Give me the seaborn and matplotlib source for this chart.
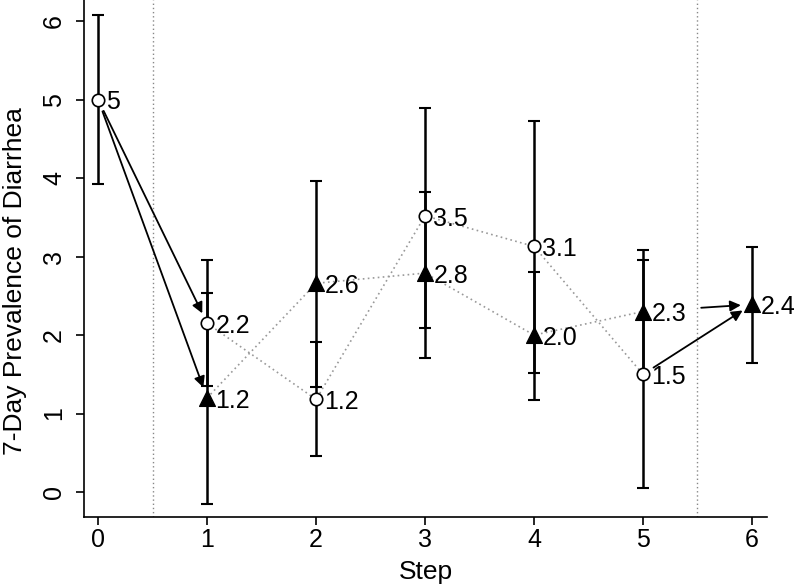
import matplotlib
matplotlib.use("Agg")
import matplotlib.pyplot as plt
import seaborn as sns
import pandas as pd

# circles: steps 0-5, triangles: steps 1-6
circle_steps = [0, 1, 2, 3, 4, 5]
circle_mean = [5.0, 2.15, 1.18, 3.52, 3.13, 1.50]
circle_lo = [3.93, 1.35, 0.46, 2.09, 1.52, 0.05]
circle_hi = [6.08, 2.96, 1.91, 4.90, 4.73, 2.96]
circle_labels = ["5", "2.2", "1.2", "3.5", "3.1", "1.5"]

tri_steps = [1, 2, 3, 4, 5, 6]
tri_mean = [1.20, 2.66, 2.79, 2.00, 2.30, 2.39]
tri_lo = [-0.15, 1.34, 1.71, 1.17, 1.50, 1.65]
tri_hi = [2.53, 3.96, 3.82, 2.80, 3.09, 3.12]
tri_labels = ["1.2", "2.6", "2.8", "2.0", "2.3", "2.4"]

circ = pd.DataFrame({"step": circle_steps, "mean": circle_mean, "lo": circle_lo, "hi": circle_hi, "lab": circle_labels})
tri = pd.DataFrame({"step": tri_steps, "mean": tri_mean, "lo": tri_lo, "hi": tri_hi, "lab": tri_labels})

sns.set_style("white")
plt.rcParams["font.family"] = ["Liberation Sans", "DejaVu Sans"]
plt.rcParams.update({"text.color": "black", "axes.labelcolor": "black",
                     "xtick.color": "black", "ytick.color": "black"})

fig = plt.figure(figsize=(8, 5.85), dpi=100)
ax = fig.add_axes([0.105, 0.116, 0.854, 0.884])

# separators
for xv in [0.5, 5.5]:
    ax.axvline(xv, color="#888888", linestyle=(0, (1, 2)), linewidth=1, zorder=0)

# dotted connections within the middle steps
sns.lineplot(data=circ[circ["step"].between(1, 5)], x="step", y="mean", ax=ax,
             color="#999999", linestyle=(0, (1, 2)), linewidth=1.2, zorder=1)
sns.lineplot(data=tri[tri["step"].between(1, 5)], x="step", y="mean", ax=ax,
             color="#999999", linestyle=(0, (1, 2)), linewidth=1.2, zorder=1)

# error bars
for d in [circ, tri]:
    ax.errorbar(d["step"], d["mean"], yerr=[d["mean"] - d["lo"], d["hi"] - d["mean"]],
                fmt="none", ecolor="black", elinewidth=1.8, capsize=4.5, capthick=1.5, zorder=2)

sns.scatterplot(data=circ, x="step", y="mean", ax=ax, marker="o", s=80,
                facecolor="white", edgecolor="black", linewidth=1.2, zorder=3)
sns.scatterplot(data=tri, x="step", y="mean", ax=ax, marker="^", s=130,
                color="black", edgecolor="black", zorder=3)

for d in [circ, tri]:
    for x, y, t in zip(d["step"], d["mean"], d["lab"]):
        ax.annotate(t, (x, y), xytext=(6, -2), textcoords="offset points",
                    va="center", ha="left", fontsize=18, zorder=4)

arrow = dict(arrowstyle="-|>", color="black", lw=1.3, mutation_scale=16,
             shrinkA=9, shrinkB=8)
ax.annotate("", xy=(circle_steps[1], circle_mean[1]), xytext=(circle_steps[0], circle_mean[0]), arrowprops=arrow)
ax.annotate("", xy=(tri_steps[0], tri_mean[0]), xytext=(circle_steps[0], circle_mean[0]), arrowprops=arrow)
ax.annotate("", xy=(tri_steps[5], tri_mean[5]), xytext=(circle_steps[5], circle_mean[5]), arrowprops=arrow)
ax.annotate("", xy=(tri_steps[5], tri_mean[5]), xytext=(tri_steps[4], tri_mean[4]),
            arrowprops=dict(arrow, shrinkA=42))

ax.set_xlim(-0.13, 6.14)
ax.set_ylim(-0.32, 6.27)
ax.set_xticks(range(0, 7))
ax.set_yticks(range(0, 7))
ax.set_xlabel("Step", fontsize=19)
ax.set_ylabel("7-Day Prevalence of Diarrhea", fontsize=19)
ax.xaxis.set_label_coords(0.5, -0.082)
ax.yaxis.set_label_coords(-0.084, 0.456)
ax.tick_params(axis="both", direction="out", length=6, width=1.2, labelsize=18, bottom=True, left=True)
ax.tick_params(axis="x", pad=2)
ax.tick_params(axis="y", pad=7)
for lab in ax.get_yticklabels():
    lab.set_rotation(90)
    lab.set_va("center")
for s in ["top", "right"]:
    ax.spines[s].set_visible(False)
for s in ["left", "bottom"]:
    ax.spines[s].set_color("black")
    ax.spines[s].set_linewidth(1.2)

fig.savefig("out.png", dpi=100)
